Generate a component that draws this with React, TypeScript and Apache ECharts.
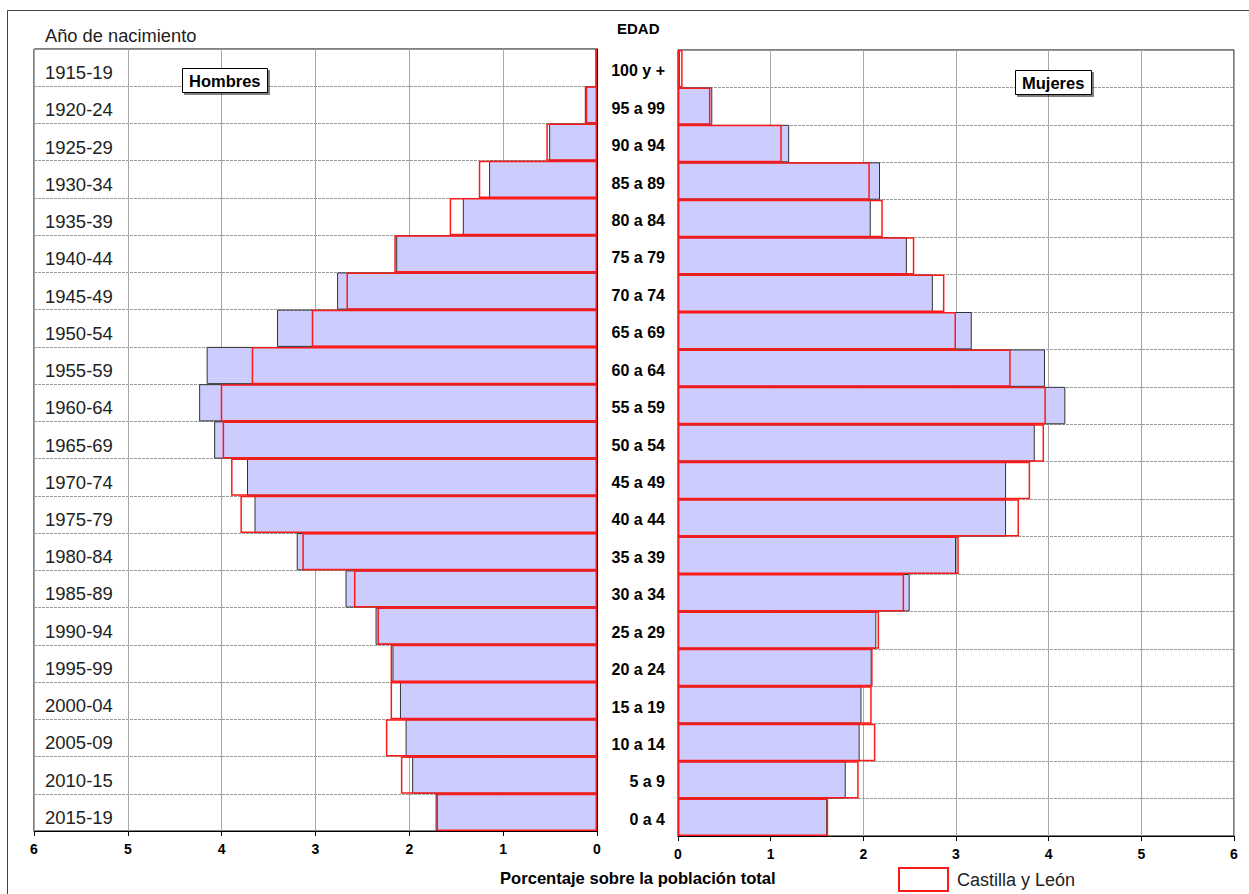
import React, { useEffect, useRef } from 'react';
import * as echarts from 'echarts';

const birthYears = ['1915-19', '1920-24', '1925-29', '1930-34', '1935-39', '1940-44', '1945-49', '1950-54', '1955-59', '1960-64', '1965-69', '1970-74', '1975-79', '1980-84', '1985-89', '1990-94', '1995-99', '2000-04', '2005-09', '2010-15', '2015-19'];
const ageGroups = ['100 y +', '95 a 99', '90 a 94', '85 a 89', '80 a 84', '75 a 79', '70 a 74', '65 a 69', '60 a 64', '55 a 59', '50 a 54', '45 a 49', '40 a 44', '35 a 39', '30 a 34', '25 a 29', '20 a 24', '15 a 19', '10 a 14', '5 a 9', '0 a 4'];

const menBase = [0.01, 0.13, 0.51, 1.15, 1.43, 2.14, 2.77, 3.41, 4.16, 4.24, 4.08, 3.73, 3.65, 3.2, 2.68, 2.36, 2.18, 2.1, 2.04, 1.97, 1.72];
const menCyL = [0.02, 0.12, 0.54, 1.26, 1.57, 2.16, 2.67, 3.04, 3.68, 4.01, 3.99, 3.9, 3.8, 3.14, 2.59, 2.34, 2.2, 2.2, 2.25, 2.09, 1.71];
const womenBase = [0.02, 0.37, 1.2, 2.18, 2.08, 2.47, 2.75, 3.17, 3.96, 4.18, 3.85, 3.54, 3.54, 3.0, 2.5, 2.14, 2.09, 1.98, 1.96, 1.81, 1.61];
const womenCyL = [0.05, 0.35, 1.12, 2.07, 2.21, 2.55, 2.875, 3.0, 3.59, 3.97, 3.95, 3.8, 3.68, 3.03, 2.44, 2.17, 2.1, 2.09, 2.13, 1.95, 1.62];

const FONT = "'Liberation Sans', Arial, sans-serif";

export default function App() {
  const ref = useRef<HTMLDivElement>(null);
  useEffect(() => {
    if (!ref.current) return;
    const chart = echarts.init(ref.current, undefined, { renderer: 'svg' });
    const valueAxis = (gridIndex: number, inverse: boolean) => ({
      type: 'value',
      gridIndex,
      min: 0,
      max: 6,
      interval: 1,
      inverse,
      axisLine: { show: true, lineStyle: { color: '#000', width: 1 } },
      axisTick: { show: true, length: 5, lineStyle: { color: '#000' } },
      axisLabel: { color: '#000', fontWeight: 'bold', fontSize: 14, margin: 11, fontFamily: FONT },
      splitLine: { show: true, lineStyle: { color: '#a8a8a8', width: 1 } },
    });
    const blueStyle = { color: '#CCCCFF', borderColor: '#333', borderWidth: 1 };
    const redStyle = { color: 'rgba(0,0,0,0)', borderColor: '#ff1a1a', borderWidth: 1.5 };
    chart.setOption({
      animation: false,
      textStyle: { fontFamily: FONT },
      grid: [
        { left: 34, right: 652, top: 49, bottom: 63, show: true, borderColor: '#000', borderWidth: 1, backgroundColor: 'transparent' },
        { left: 678, right: 15, top: 50, bottom: 58, show: true, borderColor: '#000', borderWidth: 1, backgroundColor: 'transparent' },
      ],
      xAxis: [valueAxis(0, true), valueAxis(1, false)],
      yAxis: [
        {
          type: 'category', gridIndex: 0, data: birthYears, inverse: true, position: 'left',
          axisLine: { show: true, lineStyle: { color: '#000' } },
          axisTick: { show: false },
          axisLabel: {
            inside: true, margin: 11, formatter: '{a|{value}}',
            rich: { a: { color: '#222', fontSize: 18.5, padding: [10, 0, 0, 0], fontFamily: FONT } },
          },
          splitLine: { show: true, interval: 0, lineStyle: { color: '#999', type: [3, 1], width: 1 } },
        },
        {
          type: 'category', gridIndex: 1, data: ageGroups, inverse: true, position: 'left',
          axisLine: { show: true, lineStyle: { color: '#555' } },
          axisTick: { show: false },
          axisLabel: {
            margin: 13, formatter: '{a|{value}}',
            rich: { a: { color: '#000', fontSize: 16, fontWeight: 'bold', padding: [4, 0, 0, 0], fontFamily: FONT } },
          },
          splitLine: { show: true, interval: 0, lineStyle: { color: '#999', type: [3, 1], width: 1 } },
        },
      ],
      legend: {
        data: ['Castilla y León'], left: 898, top: 867, padding: 0,
        itemWidth: 49, itemHeight: 23, icon: 'rect', selectedMode: false,
        itemStyle: { color: '#fff', borderColor: '#ff1a1a', borderWidth: 2 },
        textStyle: { fontSize: 18, color: '#222', padding: [0, 0, 0, 4], fontFamily: FONT },
      },
      title: [
        { text: 'Año de nacimiento', left: 45, top: 26, padding: 0, textStyle: { fontSize: 18.3, fontWeight: 'normal', color: '#222', fontFamily: FONT } },
        { text: 'EDAD', left: 617, top: 21, padding: 0, textStyle: { fontSize: 15, fontWeight: 'bold', color: '#000', fontFamily: FONT } },
        { text: 'Porcentaje sobre la población total', left: 500, top: 870, padding: 0, textStyle: { fontSize: 16.6, fontWeight: 'bold', color: '#000', fontFamily: FONT } },
        {
          text: 'Hombres', left: 182, top: 68, padding: [4, 7, 4, 7], borderColor: '#000', borderWidth: 1, backgroundColor: '#fff',
          shadowColor: 'rgba(0,0,0,0.5)', shadowOffsetX: 2, shadowOffsetY: 2, shadowBlur: 0,
          textStyle: { fontSize: 16.5, fontWeight: 'bold', color: '#000', fontFamily: FONT },
        },
        {
          text: 'Mujeres', left: 1015, top: 70, padding: [4, 7, 4, 7], borderColor: '#000', borderWidth: 1, backgroundColor: '#fff',
          shadowColor: 'rgba(0,0,0,0.5)', shadowOffsetX: 2, shadowOffsetY: 2, shadowBlur: 0,
          textStyle: { fontSize: 16.5, fontWeight: 'bold', color: '#000', fontFamily: FONT },
        },
      ],
      graphic: [
        { type: 'rect', silent: true, shape: { x: 7.5, y: 10.5, width: 1260, height: 900 }, style: { fill: 'none', stroke: '#444', lineWidth: 1 } },
      ],
      series: [
        { name: 'España', type: 'bar', xAxisIndex: 0, yAxisIndex: 0, data: menBase, barWidth: '100%', barGap: '-100%', barCategoryGap: '0%', itemStyle: blueStyle, z: 2 },
        { name: 'Castilla y León', type: 'bar', xAxisIndex: 0, yAxisIndex: 0, data: menCyL, barWidth: '100%', barGap: '-100%', barCategoryGap: '0%', itemStyle: redStyle, z: 3 },
        { name: 'España', type: 'bar', xAxisIndex: 1, yAxisIndex: 1, data: womenBase, barWidth: '100%', barGap: '-100%', barCategoryGap: '0%', itemStyle: blueStyle, z: 2 },
        { name: 'Castilla y León', type: 'bar', xAxisIndex: 1, yAxisIndex: 1, data: womenCyL, barWidth: '100%', barGap: '-100%', barCategoryGap: '0%', itemStyle: redStyle, z: 3 },
      ],
    });
    return () => chart.dispose();
  }, []);
  return <div ref={ref} style={{ position: 'fixed', left: 0, top: 0, width: 1249, height: 894, background: '#fff' }} />;
}
